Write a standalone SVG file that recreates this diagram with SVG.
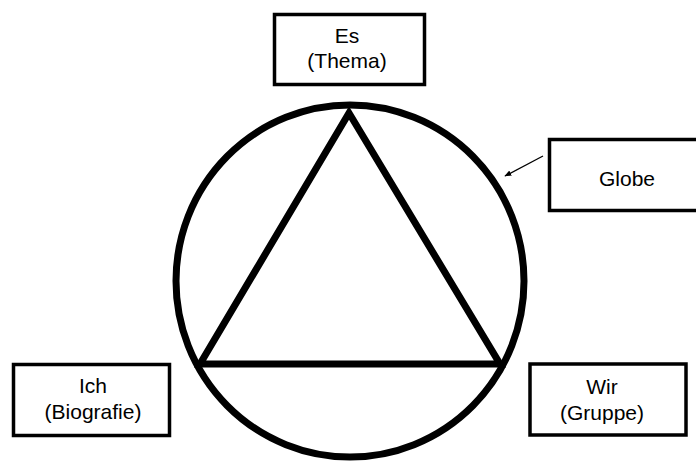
<svg xmlns="http://www.w3.org/2000/svg" width="696" height="463" viewBox="0 0 696 463">
<style>
.box{fill:#fff;stroke:#000;stroke-width:3.5}
.t{font-family:"Liberation Sans",Arial,sans-serif;font-size:21px;fill:#000;text-anchor:middle}
.shape{fill:none;stroke:#000;stroke-width:7}
</style>
<defs>
<marker id="ah" viewBox="0 0 10 10" refX="9" refY="5" markerWidth="7" markerHeight="7" orient="auto" markerUnits="userSpaceOnUse">
<path d="M0,1 L10,5 L0,9 Z" fill="#000"/>
</marker>
</defs>
<g id="globe-shape">
<ellipse class="shape" cx="350" cy="281" rx="174" ry="176"/>
<polygon class="shape" points="349,113 200,364 500,364" stroke-linejoin="miter"/>
</g>
<g id="connectors">
<line x1="543" y1="156" x2="505" y2="176" stroke="#000" stroke-width="1.3" marker-end="url(#ah)"/>
</g>
<g id="es">
<rect class="box" x="274.5" y="14.5" width="150" height="70"/>
<text class="t" x="347" y="43">Es</text>
<text class="t" x="347" y="67.5">(Thema)</text>
</g>
<g id="globe">
<rect class="box" x="549.5" y="139.5" width="160" height="71"/>
<text class="t" x="627" y="185.5">Globe</text>
</g>
<g id="ich">
<rect class="box" x="13.5" y="364.5" width="156" height="71"/>
<text class="t" x="93" y="393">Ich</text>
<text class="t" x="93" y="419">(Biografie)</text>
</g>
<g id="wir">
<rect class="box" x="530" y="364" width="156" height="71"/>
<text class="t" x="602" y="393.5">Wir</text>
<text class="t" x="602" y="419.5">(Gruppe)</text>
</g>
</svg>
